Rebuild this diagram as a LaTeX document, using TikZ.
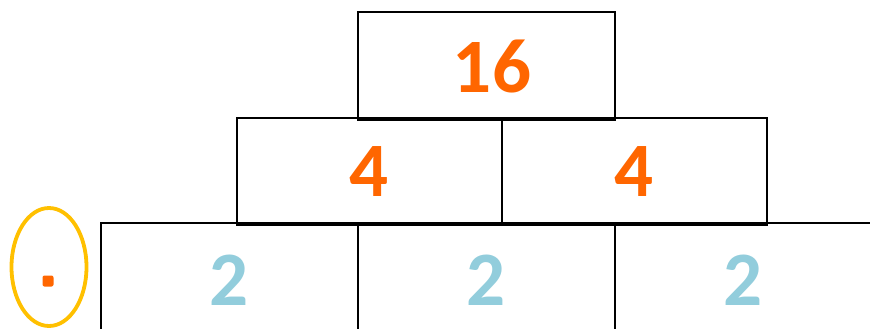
\documentclass[tikz,border=0pt]{standalone}
\usepackage{fontspec}
\setmainfont{Carlito}
\usetikzlibrary{shapes.geometric}
\definecolor{numorange}{HTML}{FF6600}
\definecolor{numblue}{HTML}{92CDDC}
\definecolor{ringgold}{HTML}{FFC000}
\begin{document}
\begin{tikzpicture}[x=1pt,y=-1pt,
  cell/.style={draw=black,line width=2.8pt,inner sep=0pt,outer sep=0pt},
  num/.style={font=\bfseries\fontsize{77}{77}\selectfont,inner sep=0pt}]
\clip (0,0) rectangle (870,329);
\fill[white] (0,0) rectangle (870,329);
% top
\node[cell,minimum width=257pt,minimum height=108pt] (top) at (486.5,66) {};
\node[num,text=numorange] (t16) at (492,67) {16};
% middle
\node[cell,minimum width=265pt,minimum height=107pt] (ml) at (369.5,171.5) {};
\node[cell,minimum width=265pt,minimum height=107pt] (mr) at (634.5,171.5) {};
\node[num,text=numorange] (n4a) at (ml.center) {4};
\node[num,text=numorange] (n4b) at (mr.center) {4};
% bottom
\node[cell,minimum width=257pt,minimum height=200pt] (bl) at (229.5,323) {};
\node[cell,minimum width=257pt,minimum height=200pt] (bm) at (486.5,323) {};
\node[cell,minimum width=257pt,minimum height=200pt] (br) at (743.5,323) {};
\draw[line width=2.8pt] (br.north east) -- (880,223);
\node[num,text=numblue] (n2a) at (229.5,280) {2};
\node[num,text=numblue] (n2b) at (486.5,280) {2};
\node[num,text=numblue] (n2c) at (743.5,280) {2};
% ring with dot
\node[draw=ringgold,line width=3.8pt,ellipse,minimum width=75pt,minimum height=118pt,inner sep=0pt] (ring) at (49,267) {};
\fill[numorange,rounded corners=2pt] (42.5,275.5) rectangle (53.5,286.5);
\end{tikzpicture}
\end{document}
